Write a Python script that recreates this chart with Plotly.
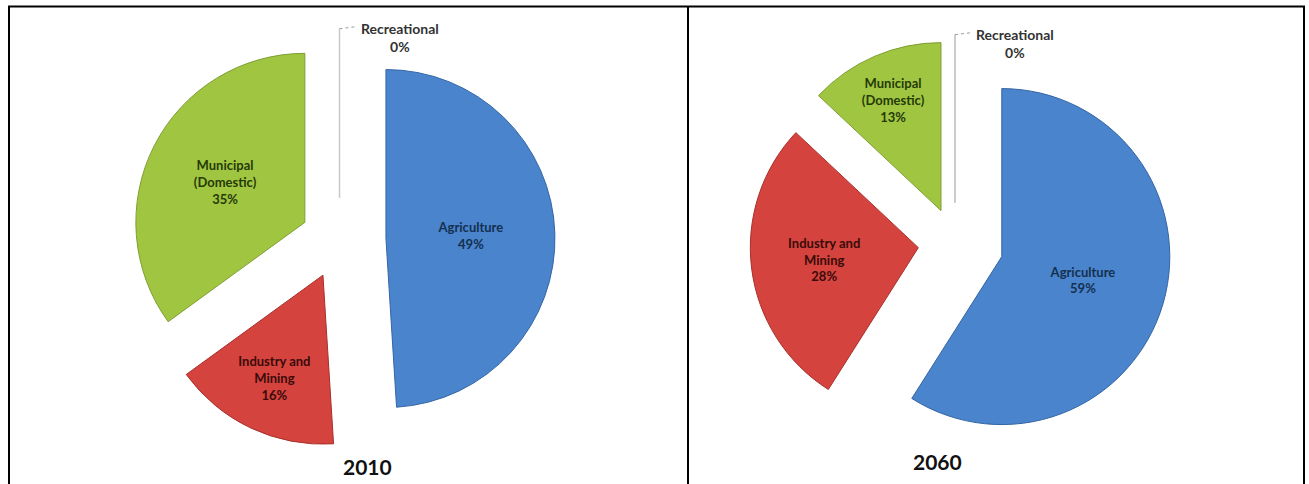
import plotly.graph_objects as go

# ---- data ----
categories = ["Agriculture", "Industry and Mining", "Municipal (Domestic)", "Recreational"]
display_names = ["Agriculture", "Industry and<br>Mining", "Municipal<br>(Domestic)", "Recreational"]
use_2010 = [49, 16, 35, 0]
use_2060 = [59, 28, 13, 0]
years = ["2010", "2060"]

# ---- styling ----
W, H = 1309, 484
slice_colors = ["#4A84CC", "#D4433D", "#A0C641"]
edge_colors = ["#3465A4", "#A8302B", "#7E9E32"]
text_colors = ["#14304F", "#3A0B09", "#263A08"]
zero_line = "#C8C8C8"
FONT = "Lato"


def px_x(x):
    return x / W


def px_y(y):
    return 1 - y / H


# pie geometry (centre in pixels, slice radius in pixels, pull per slice)
pies = [
    dict(values=use_2010, cx=339.5, cy=240, r=169, pull=[0.275, 0.23, 0.23, 0.25],
         title=years[0], title_xy=(367, 466)),
    dict(values=use_2060, cx=955, cy=243, r=168, pull=[0.29, 0.22, 0.21, 0.24],
         title=years[1], title_xy=(937, 461)),
]

fig = go.Figure()
shapes = []
annotations = []

for p in pies:
    half = p["r"] * (1 + max(p["pull"]))
    dom_x = [px_x(p["cx"] - half), px_x(p["cx"] + half)]
    dom_y = [px_y(p["cy"] + half), px_y(p["cy"] - half)]
    fig.add_trace(go.Pie(
        labels=categories,
        values=p["values"],
        text=display_names,
        texttemplate="<b>%{text}<br>%{percent:.0%}</b>",
        textinfo="text",
        textposition=["inside", "inside", "inside", "none"],
        insidetextorientation="horizontal",
        textfont=dict(family=FONT, size=13, color=text_colors + ["#333"]),
        marker=dict(colors=slice_colors + ["#FFFFFF"],
                    line=dict(color=edge_colors + [zero_line], width=[1, 1, 1, 1])),
        pull=p["pull"],
        sort=False,
        direction="clockwise",
        rotation=0,
        domain=dict(x=dom_x, y=dom_y),
        showlegend=False,
        hoverinfo="label+percent",
    ))

    # zero-value slice: a radius pointing straight up, pulled out like the others
    zp = p["pull"][3]
    top = p["cy"] - (1 + zp) * p["r"]
    bottom = p["cy"] - zp * p["r"]
    shapes.append(dict(type="line", xref="paper", yref="paper",
                       x0=px_x(p["cx"]), x1=px_x(p["cx"]),
                       y0=px_y(bottom), y1=px_y(top),
                       line=dict(color=zero_line, width=1.5)))
    shapes.append(dict(type="line", xref="paper", yref="paper",
                       x0=px_x(p["cx"]), x1=px_x(p["cx"] + 16),
                       y0=px_y(top), y1=px_y(top - 2),
                       line=dict(color="#9A9A9A", width=1, dash="dot")))
    annotations.append(dict(
        xref="paper", yref="paper", x=px_x(p["cx"] + 60), y=px_y(top - 11),
        xanchor="center", yanchor="top", showarrow=False, align="center",
        text="<b>Recreational<br>0%</b>",
        font=dict(family=FONT, size=14, color="#333333"),
    ))
    tx, ty = p["title_xy"]
    annotations.append(dict(
        xref="paper", yref="paper", x=px_x(tx), y=px_y(ty),
        xanchor="center", yanchor="middle", showarrow=False,
        text="<b>%s</b>" % p["title"],
        font=dict(family=FONT, size=21, color="#111111"),
    ))

# panel frames
frame = dict(color="#000000", width=2)
for x0, y0, x1, y1 in [
    (8, 6.5, 1305, 6.5),     # top edge
    (9, 6.5, 9, 490),        # left edge of 2010 panel
    (688, 6.5, 688, 490),    # divider
    (1304, 6.5, 1304, 490),  # right edge of 2060 panel
]:
    shapes.append(dict(type="line", xref="paper", yref="paper",
                       x0=px_x(x0), x1=px_x(x1), y0=px_y(y0), y1=px_y(y1),
                       line=frame))

fig.update_layout(
    width=W, height=H, autosize=False,
    margin=dict(l=0, r=0, t=0, b=0),
    paper_bgcolor="#FFFFFF", plot_bgcolor="#FFFFFF",
    shapes=shapes, annotations=annotations,
    font=dict(family=FONT),
)

fig.write_html("out.html")
